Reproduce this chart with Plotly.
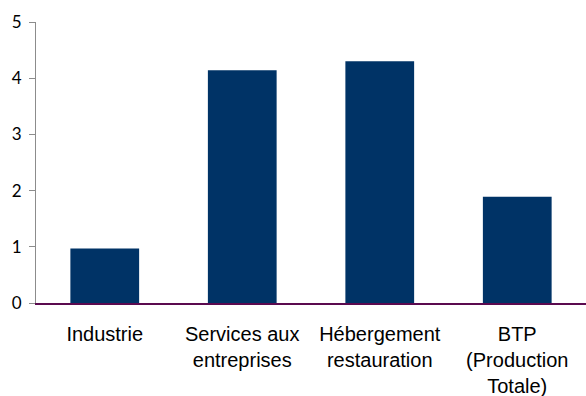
import plotly.graph_objects as go

# Secteurs et valeurs
categories = ["Industrie", "Services aux<br>entreprises", "Hébergement<br>restauration",
              "BTP<br>(Production<br>Totale)"]
values = [0.97, 4.14, 4.30, 1.89]
y_ticks = [0, 1, 2, 3, 4, 5]

fig = go.Figure(
    go.Bar(
        x=categories,
        y=values,
        width=0.5,
        marker=dict(color="#003366", line=dict(width=0)),
        hoverinfo="skip",
    )
)

fig.update_layout(
    width=586,
    height=396,
    margin=dict(l=36, r=0, t=22, b=93),
    paper_bgcolor="white",
    plot_bgcolor="white",
    showlegend=False,
    bargap=0.5,
)

fig.update_xaxes(
    showgrid=False,
    zeroline=False,
    showline=True,
    linecolor="#5B0A4F",
    linewidth=2,
    ticks="",
    tickfont=dict(family="Liberation Sans, Arial", size=20, color="#000000"),
    tickangle=0,
    ticklabelstandoff=12,
)

fig.update_yaxes(
    range=[0, 5],
    tickvals=y_ticks,
    showgrid=False,
    zeroline=False,
    showline=True,
    linecolor="#8C8C8C",
    linewidth=1,
    ticks="outside",
    ticklen=6,
    tickcolor="#8C8C8C",
    tickfont=dict(family="Lato, Carlito, Calibri", size=17, color="#000000"),
    ticklabelstandoff=4,
)

fig.write_html("out.html")
